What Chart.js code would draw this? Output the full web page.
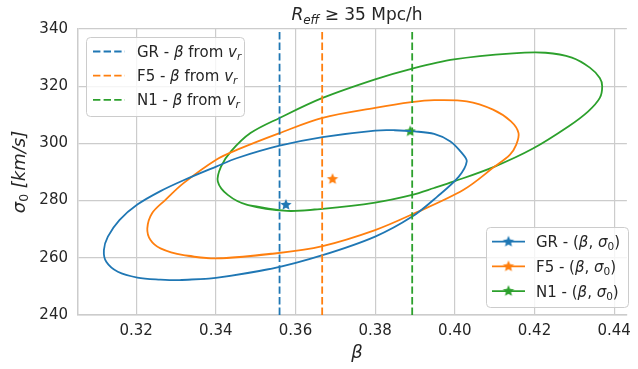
<!DOCTYPE html>
<html><head><meta charset="utf-8">
<script src="https://cdn.jsdelivr.net/npm/chart.js@4.4.1/dist/chart.umd.min.js"></script>
<style>html,body{margin:0;padding:0;background:#fff}canvas{display:block}</style>
</head><body>
<canvas id="c" width="638" height="369"></canvas>
<script>
// axis ticks
const xTicks = [0.32, 0.34, 0.36, 0.38, 0.40, 0.42, 0.44];
const yTicks = [240, 260, 280, 300, 320, 340];

// (beta, sigma0) contours, going round each ellipse
const grBeta  = [0.3400, 0.3541, 0.3668, 0.3800, 0.3893, 0.3956, 0.4010, 0.4030, 0.4018, 0.3989, 0.3948, 0.3899, 0.3849, 0.3800, 0.3668, 0.3560, 0.3454, 0.3401, 0.3319, 0.3261, 0.3203, 0.3158, 0.3129, 0.3119, 0.3125, 0.3154, 0.3203, 0.3261, 0.3309];
const grSigma = [253.0, 256.2, 260.9, 267.4, 274.4, 281.4, 288.4, 293.7, 296.6, 300.7, 303.3, 304.2, 304.6, 304.5, 302.2, 299.2, 294.9, 291.9, 287.1, 283.3, 278.6, 273.2, 267.4, 262.7, 258.6, 255.1, 253.1, 252.4, 252.2];
const f5Beta  = [0.3400, 0.3548, 0.3668, 0.3800, 0.3893, 0.4022, 0.4100, 0.4138, 0.4154, 0.4160, 0.4141, 0.4096, 0.4030, 0.3948, 0.3891, 0.3800, 0.3668, 0.3560, 0.3454, 0.3401, 0.3319, 0.3273, 0.3240, 0.3228, 0.3236, 0.3261, 0.3319];
const f5Sigma = [259.8, 261.5, 264.1, 269.7, 275.2, 283.8, 291.9, 296.0, 299.5, 303.6, 307.7, 311.8, 314.7, 315.1, 314.4, 312.4, 308.9, 303.6, 297.8, 294.3, 286.1, 280.2, 275.6, 270.3, 266.2, 263.3, 260.9];
const n1Beta  = [0.3578, 0.3668, 0.3800, 0.3893, 0.3948, 0.3998, 0.4100, 0.4195, 0.4286, 0.4335, 0.4364, 0.4370, 0.4364, 0.4339, 0.4294, 0.4228, 0.4146, 0.3998, 0.3891, 0.3800, 0.3668, 0.3560, 0.3487, 0.3438, 0.3413, 0.3405, 0.3430, 0.3479];
const n1Sigma = [276.4, 277.1, 279.3, 282.0, 284.4, 286.7, 291.9, 298.1, 306.0, 311.2, 315.9, 320.0, 322.9, 326.5, 330.0, 331.7, 331.5, 329.4, 326.1, 322.4, 315.9, 308.9, 303.6, 297.2, 291.9, 286.7, 282.0, 278.5];

// best fits and beta from v_r
const models = ["GR", "F5", "N1"];
const colors = ["#1f77b4", "#ff7f0e", "#2ca02c"];
const vrBeta = [0.3560, 0.3667, 0.3893];
const starBeta = [0.3576, 0.3693, 0.3888];
const starSigma = [278.5, 287.5, 304.2];

const X_MIN = 0.3054, X_MAX = 0.4432, Y_MIN = 240, Y_MAX = 340;
const FONT = "'DejaVu Sans', sans-serif";
const TXT = "#262626";

function starImg(color, r) {
  const s = Math.ceil(r * 2 + 2), c = document.createElement("canvas");
  c.width = c.height = s;
  const g = c.getContext("2d");
  g.beginPath();
  for (let i = 0; i < 10; i++) {
    const a = -Math.PI / 2 + i * Math.PI / 5, rr = i % 2 ? r * 0.45 : r;
    g.lineTo(s / 2 + rr * Math.cos(a), s / 2 + rr * Math.sin(a));
  }
  g.closePath(); g.fillStyle = color; g.fill();
  return c;
}
const stars = colors.map((c) => starImg(c, 6));

// closed contour: wrap one point either side so the spline has no corner at the seam
const loop = (xs, ys) => {
  const p = xs.map((x, i) => ({ x, y: ys[i] }));
  return [p[p.length - 1], ...p, p[0], p[1]];
};
const contours = [[grBeta, grSigma], [f5Beta, f5Sigma], [n1Beta, n1Sigma]];

const datasets = [];
models.forEach((m, i) => datasets.push({
  label: m + " vr", data: [{ x: vrBeta[i], y: Y_MIN }, { x: vrBeta[i], y: Y_MAX }],
  borderColor: colors[i], borderWidth: 1.8, borderDash: [7.4, 3.2], pointRadius: 0, showLine: true,
}));
// tension 1/3 ~ Catmull-Rom through the traced points
models.forEach((m, i) => datasets.push({
  label: m + " ellipse", data: loop(...contours[i]),
  borderColor: colors[i], borderWidth: 1.8, pointRadius: 0, showLine: true, tension: 0.33,
}));
models.forEach((m, i) => datasets.push({
  label: m + " fit", data: [{ x: starBeta[i], y: starSigma[i] }],
  pointStyle: stars[i], pointRadius: 6, showLine: false,
}));

// draw a run of text pieces with mixed fonts / subscripts
function runs(ctx, parts, x, y, align) {
  let w = 0;
  parts.forEach((p) => { ctx.font = p.f; p.w = ctx.measureText(p.t).width; w += p.w; });
  let cx = align === "center" ? x - w / 2 : x;
  ctx.textAlign = "left"; ctx.textBaseline = "alphabetic";
  parts.forEach((p) => { ctx.font = p.f; ctx.fillText(p.t, cx, y + (p.dy || 0)); cx += p.w; });
  return w;
}
const it = (n) => `italic ${n}px ${FONT}`, rm = (n) => `${n}px ${FONT}`;

function legendBox(ctx, x, y, w, h) {
  ctx.save();
  ctx.beginPath(); ctx.roundRect(x + 0.5, y + 0.5, w, h, 4);
  ctx.fillStyle = "rgba(255,255,255,0.8)"; ctx.fill();
  ctx.strokeStyle = "#cccccc"; ctx.lineWidth = 1; ctx.stroke();
  ctx.restore();
}

const decor = {
  id: "decor",
  afterDraw(chart) {
    const ctx = chart.ctx;
    ctx.save();
    ctx.fillStyle = TXT;
    // title
    runs(ctx, [{ t: "R", f: it(17) }, { t: "eff", f: it(12), dy: 3.5 }, { t: " \u2265 35 Mpc/h", f: rm(17) }], 357, 20, "center");
    // x label
    runs(ctx, [{ t: "\u03b2", f: it(18) }], 357, 358, "center");
    // y label
    ctx.save(); ctx.translate(25, 172); ctx.rotate(-Math.PI / 2);
    runs(ctx, [{ t: "\u03c3", f: it(18) }, { t: "0", f: rm(12.5), dy: 3 }, { t: " [km/s]", f: it(18) }], 0, 0, "center");
    ctx.restore();

    // upper-left legend: beta from v_r
    legendBox(ctx, 86, 37, 158, 79);
    models.forEach((m, i) => {
      const yy = 51.5 + i * 24.2;
      ctx.save(); ctx.strokeStyle = colors[i]; ctx.lineWidth = 1.8; ctx.setLineDash([7.4, 3.2]);
      ctx.beginPath(); ctx.moveTo(93, yy); ctx.lineTo(125, yy); ctx.stroke(); ctx.restore();
      ctx.fillStyle = TXT;
      runs(ctx, [{ t: m + " - ", f: rm(15) }, { t: "\u03b2", f: it(15) }, { t: " from ", f: rm(15) },
        { t: "v", f: it(15) }, { t: "r", f: it(10.5), dy: 3 }], 137, yy + 5.5, "left");
    });

    // lower-right legend: (beta, sigma0)
    legendBox(ctx, 486, 227, 142, 80);
    models.forEach((m, i) => {
      const yy = 241.7 + i * 24.7;
      ctx.save(); ctx.strokeStyle = colors[i]; ctx.lineWidth = 1.8;
      ctx.beginPath(); ctx.moveTo(492, yy); ctx.lineTo(525, yy); ctx.stroke(); ctx.restore();
      ctx.drawImage(stars[i], 508.5 - stars[i].width / 2, yy - stars[i].height / 2);
      ctx.fillStyle = TXT;
      runs(ctx, [{ t: m + " - (", f: rm(15) }, { t: "\u03b2", f: it(15) }, { t: ", ", f: rm(15) },
        { t: "\u03c3", f: it(15) }, { t: "0", f: rm(10.5), dy: 3 }, { t: ")", f: rm(15) }], 536, yy + 5.5, "left");
    });
    ctx.restore();
  },
};

new Chart(document.getElementById("c"), {
  type: "scatter",
  data: { datasets },
  options: {
    responsive: false, animation: false, devicePixelRatio: 1,
    layout: { padding: { top: 29, right: 2, left: 0, bottom: 0 } },
    plugins: { legend: { display: false }, tooltip: { enabled: false } },
    scales: {
      x: {
        type: "linear", min: X_MIN, max: X_MAX,
        afterBuildTicks: (s) => { s.ticks = xTicks.map((v) => ({ value: v })); },
        afterFit: (s) => { s.height = 54; },
        ticks: { callback: (v) => v.toFixed(2), color: TXT, font: { family: FONT, size: 15 }, padding: 7, maxRotation: 0 },
        grid: { color: "#cccccc", lineWidth: 1.2, drawTicks: false },
        border: { color: "#cccccc", width: 1.5 },
      },
      y: {
        type: "linear", min: Y_MIN, max: Y_MAX,
        afterBuildTicks: (s) => { s.ticks = yTicks.map((v) => ({ value: v })); },
        afterFit: (s) => { s.width = 78; },
        ticks: { color: TXT, font: { family: FONT, size: 15 }, padding: 10 },
        grid: { color: "#cccccc", lineWidth: 1.2, drawTicks: false },
        border: { color: "#cccccc", width: 1.5 },
      },
    },
  },
  plugins: [decor],
});
</script>
</body></html>
